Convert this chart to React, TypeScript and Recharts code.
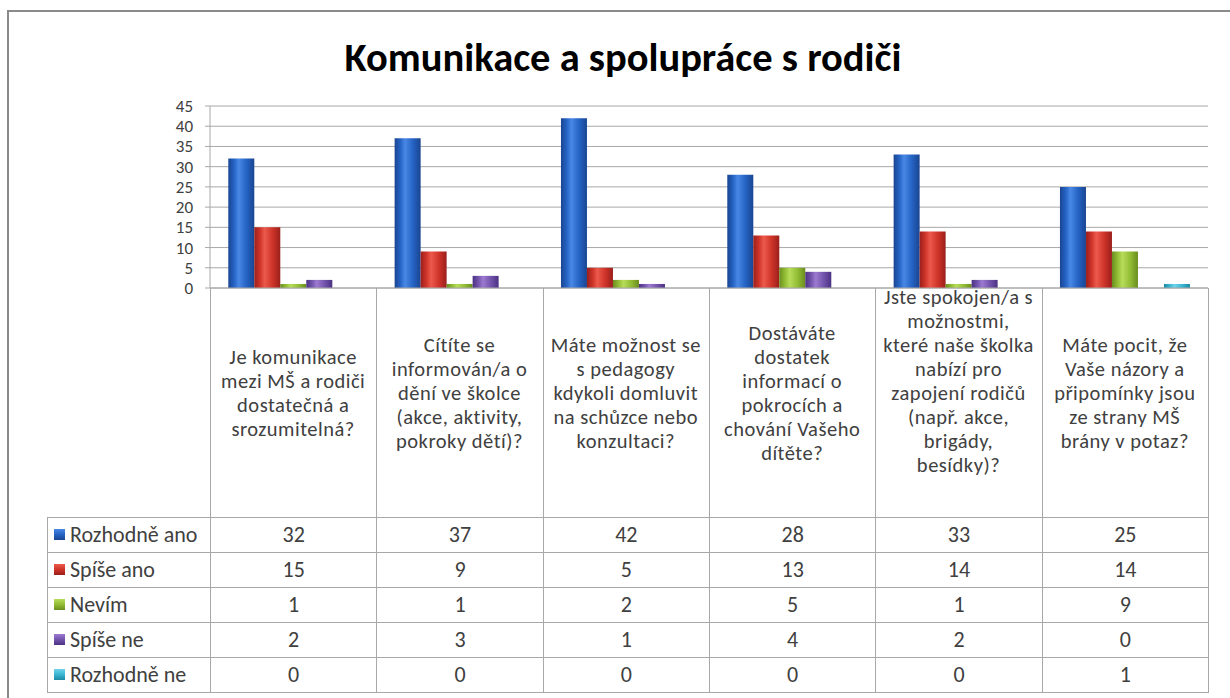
import { Bar, BarChart, CartesianGrid, XAxis, YAxis } from 'recharts';

const title = 'Komunikace a spolupráce s rodiči';

const questionLines = [
  ['Je komunikace', 'mezi MŠ a rodiči', 'dostatečná a', 'srozumitelná?'],
  ['Cítíte se', 'informován/a o', 'dění ve školce', '(akce, aktivity,', 'pokroky dětí)?'],
  ['Máte možnost se', 's pedagogy', 'kdykoli domluvit', 'na schůzce nebo', 'konzultaci?'],
  ['Dostáváte', 'dostatek', 'informací o', 'pokrocích a', 'chování Vašeho', 'dítěte?'],
  [
    'Jste spokojen/a s',
    'možnostmi,',
    'které naše školka',
    'nabízí pro',
    'zapojení rodičů',
    '(např. akce,',
    'brigády,',
    'besídky)?',
  ],
  ['Máte pocit, že', 'Vaše názory a', 'připomínky jsou', 'ze strany MŠ', 'brány v potaz?'],
];

const seriesNames = ['Rozhodně ano', 'Spíše ano', 'Nevím', 'Spíše ne', 'Rozhodně ne'];

const rozhodneAno = [32, 37, 42, 28, 33, 25];
const spiseAno = [15, 9, 5, 13, 14, 14];
const nevim = [1, 1, 2, 5, 1, 9];
const spiseNe = [2, 3, 1, 4, 2, 0];
const rozhodneNe = [0, 0, 0, 0, 0, 1];

const yTicks = [0, 5, 10, 15, 20, 25, 30, 35, 40, 45];

const seriesValues = [rozhodneAno, spiseAno, nevim, spiseNe, rozhodneNe];

// [edge, highlight, body]
const palette = [
  ['#1a4591', '#4a88e6', '#2563c4'],
  ['#9a1f1b', '#ec5a4c', '#cf3429'],
  ['#6a8d1f', '#b7dc5a', '#93bd35'],
  ['#4b3182', '#9c7ad0', '#7354ad'],
  ['#1c8aa4', '#6fd3ea', '#3bb6d2'],
];

const data = questionLines.map((lines, i) => {
  const row: Record<string, string | number> = { name: lines.join(' ') };
  seriesNames.forEach((s, j) => {
    row[s] = seriesValues[j][i];
  });
  return row;
});

const FONT = 'Calibri, Carlito, "Open Sans", sans-serif';
const TEXT = '#404040';
const LINE = '#a8a8a8';

const PLOT_LEFT = 210;
const PLOT_RIGHT = 1208;
const PLOT_TOP = 106;
const PLOT_BOTTOM = 288;
const LABEL_BOTTOM = 517;
const ROW_H = 35;
const TABLE_LEFT = 47;
const COL_W = (PLOT_RIGHT - PLOT_LEFT) / questionLines.length;

function QuestionTick(props: any) {
  const { x, payload } = props;
  const lines = questionLines[payload.index] ?? [];
  const lh = 24;
  const center = 393;
  const y0 = lines.length > 6 ? PLOT_BOTTOM + 16 : center - ((lines.length - 1) * lh) / 2 + 7;
  return (
    <text
      x={x}
      y={y0}
      textAnchor="middle"
      fill={TEXT}
      fontSize={20.5}
      letterSpacing={0.5}
      fontFamily={FONT}
    >
      {lines.map((l, i) => (
        <tspan key={i} x={x} dy={i === 0 ? 0 : lh}>
          {l}
        </tspan>
      ))}
    </text>
  );
}

function KeySquare({ index }: { index: number }) {
  const [edge, hi, body] = palette[index];
  return (
    <span
      style={{
        display: 'inline-block',
        width: 11,
        height: 11,
        marginRight: 5,
        verticalAlign: 'middle',
        position: 'relative',
        top: -2,
        background: `linear-gradient(180deg, ${hi} 0%, ${body} 50%, ${edge} 100%)`,
      }}
    />
  );
}

export default function App() {
  const cellBorder = `1px solid ${LINE}`;
  return (
    <div
      style={{
        position: 'absolute',
        left: 0,
        top: 0,
        width: 1230,
        height: 698,
        overflow: 'hidden',
        background: '#fff',
        fontFamily: FONT,
      }}
    >
      <div
        style={{
          position: 'absolute',
          left: 7,
          top: 10,
          width: 1230,
          height: 700,
          border: '2px solid #8a8a8a',
          boxSizing: 'border-box',
        }}
      />
      <div
        style={{
          position: 'absolute',
          left: 0,
          width: 1246,
          top: 33,
          textAlign: 'center',
          fontSize: 40.5,
          fontWeight: 700,
          color: '#000',
          lineHeight: '48px',
        }}
      >
        {title}
      </div>

      <div style={{ position: 'absolute', left: 0, top: 0 }}>
        <BarChart
          width={1230}
          height={698}
          data={data}
          margin={{ top: PLOT_TOP, right: 1230 - PLOT_RIGHT, bottom: 698 - LABEL_BOTTOM, left: PLOT_LEFT - 60 }}
          barCategoryGap="11%"
          barGap={0}
        >
          <defs>
            {palette.map(([edge, hi, body], i) => (
              <linearGradient key={i} id={`g${i}`} x1="0" y1="0" x2="1" y2="0">
                <stop offset="0%" stopColor={edge} />
                <stop offset="22%" stopColor={body} />
                <stop offset="40%" stopColor={hi} />
                <stop offset="70%" stopColor={body} />
                <stop offset="100%" stopColor={edge} />
              </linearGradient>
            ))}
          </defs>
          <CartesianGrid vertical={false} stroke={LINE} />
          <XAxis
            dataKey="name"
            interval={0}
            height={LABEL_BOTTOM - PLOT_BOTTOM}
            tick={<QuestionTick />}
            tickLine={false}
            axisLine={{ stroke: LINE }}
          />
          <YAxis
            width={60}
            domain={[0, 45]}
            ticks={yTicks}
            interval={0}
            tick={{ fill: TEXT, fontSize: 17, fontFamily: FONT }}
            tickLine={{ stroke: LINE }}
            tickSize={5}
            tickMargin={12}
            axisLine={{ stroke: LINE }}
          />
          {seriesNames.map((s, i) => (
            <Bar key={s} dataKey={s} fill={`url(#g${i})`} isAnimationActive={false} />
          ))}
        </BarChart>
      </div>

      <table
        style={{
          position: 'absolute',
          left: TABLE_LEFT,
          top: PLOT_BOTTOM,
          borderCollapse: 'collapse',
          tableLayout: 'fixed',
          width: PLOT_RIGHT - TABLE_LEFT + 1,
          fontSize: 22,
          color: TEXT,
          fontFamily: FONT,
        }}
      >
        <colgroup>
          <col style={{ width: PLOT_LEFT - TABLE_LEFT }} />
          {questionLines.map((_, i) => (
            <col key={i} style={{ width: COL_W }} />
          ))}
        </colgroup>
        <tbody>
          <tr style={{ height: LABEL_BOTTOM - PLOT_BOTTOM }}>
            <td style={{ padding: 0, borderRight: cellBorder }} />
            {questionLines.map((_, i) => (
              <td key={i} style={{ padding: 0, borderLeft: cellBorder, borderRight: cellBorder }} />
            ))}
          </tr>
          {seriesNames.map((s, j) => (
            <tr key={s} style={{ height: ROW_H }}>
              <td style={{ border: cellBorder, padding: '0 0 0 6px', whiteSpace: 'nowrap', lineHeight: '33px' }}>
                <KeySquare index={j} />
                {s}
              </td>
              {seriesValues[j].map((v, i) => (
                <td key={i} style={{ border: cellBorder, padding: 0, textAlign: 'center', lineHeight: '33px' }}>
                  {v}
                </td>
              ))}
            </tr>
          ))}
        </tbody>
      </table>
    </div>
  );
}
